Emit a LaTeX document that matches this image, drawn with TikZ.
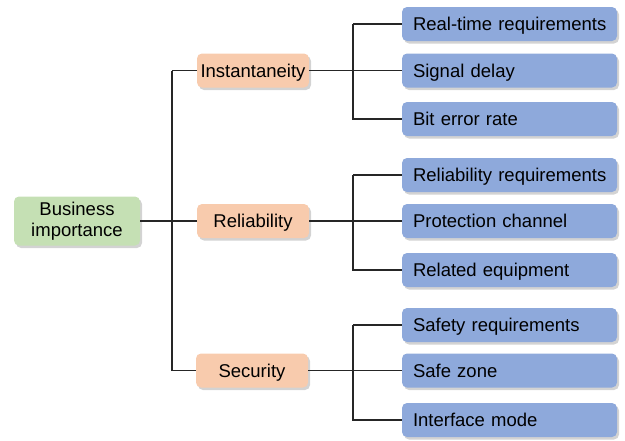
\documentclass[tikz,border=0pt]{standalone}
\usepackage{fontspec}
\setmainfont{Liberation Sans}
\usetikzlibrary{shadows}
\definecolor{bgreen}{HTML}{C5E0B4}
\definecolor{borange}{HTML}{F8CBAD}
\definecolor{bblue}{HTML}{8EA9DB}
\begin{document}
\begin{tikzpicture}[x=1pt,y=-1pt,
  box/.style={rounded corners=5pt, inner sep=0pt, font=\fontsize{18.5}{21}\selectfont,
    drop shadow={shadow xshift=2pt, shadow yshift=-2.5pt, opacity=0.35, fill=gray}},
  rootbox/.style={box, fill=bgreen, minimum width=126pt, minimum height=49pt, align=center},
  midbox/.style={box, fill=borange, minimum width=112pt, minimum height=34pt,
    text height=13.3pt, text depth=0pt},
  leafbox/.style={box, fill=bblue, minimum width=215pt, minimum height=34pt, text width=203pt,
    text height=13.3pt, text depth=0pt,
    align=left, inner xsep=6pt, execute at begin node={\hyphenpenalty=10000\hspace*{5pt}}},
  link/.style={line width=1.3pt, draw=black!85}]
\useasboundingbox (0,0) rectangle (625,440);
\node[rootbox] (bus) at (77,221) {Business\\importance};
\node[midbox] (ins) at (253,70.5) {Instantaneity};
\node[midbox] (rel) at (253,221) {Reliability};
\node[midbox] (sec) at (252,370.5) {Security};
\node[leafbox] (a1) at (509.5,24) {Real-time requirements};
\node[leafbox] (a2) at (509.5,70.5) {Signal delay};
\node[leafbox] (a3) at (509.5,119) {Bit error rate};
\node[leafbox] (b1) at (509.5,175) {Reliability requirements};
\node[leafbox] (b2) at (509.5,221) {Protection channel};
\node[leafbox] (b3) at (509.5,270) {Related equipment};
\node[leafbox] (c1) at (509.5,325) {Safety requirements};
\node[leafbox] (c2) at (509.5,370.5) {Safe zone};
\node[leafbox] (c3) at (509.5,420) {Interface mode};
\coordinate (t1) at (172,70.5);
\coordinate (t3) at (172,370.5);
\coordinate (ja) at (353,24);
\coordinate (jb) at (353,175);
\coordinate (jc) at (353,325);
\draw[link] (t1) -- (t3);
\draw[link] (bus.east) -- (rel.west);
\draw[link] (t1) -- (ins.west);
\draw[link] (t3) -- (sec.west);
\draw[link] (ins.east) -- (a2.west);
\draw[link] (rel.east) -- (b2.west);
\draw[link] (sec.east) -- (c2.west);
\draw[link] (ja) -- (ja |- a3) -- (a3.west);
\draw[link] (ja) -- (a1.west);
\draw[link] (jb) -- (jb |- b3) -- (b3.west);
\draw[link] (jb) -- (b1.west);
\draw[link] (jc) -- (jc |- c3) -- (c3.west);
\draw[link] (jc) -- (c1.west);
\end{tikzpicture}
\end{document}
